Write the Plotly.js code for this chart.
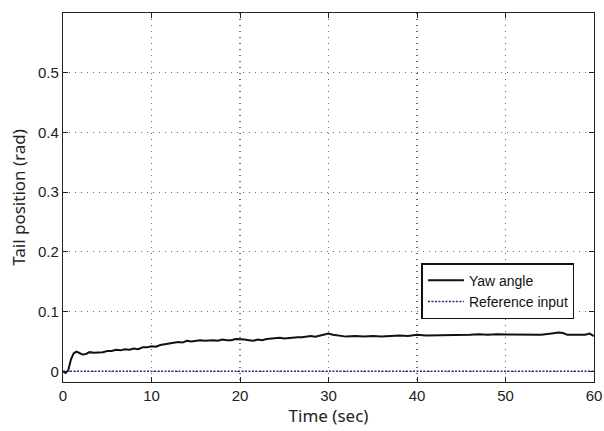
<!DOCTYPE html>
<html><head><meta charset="utf-8">
<script src="https://cdn.plot.ly/plotly-3.0.1.min.js"></script>
<style>body{margin:0;background:#fff}#c{width:604px;height:431px}</style>
</head><body><div id="c"></div>
<script>
const timeSec = [0,0.3,0.6,0.9,1.2,1.5,1.8,2.2,2.6,3,3.5,4,4.5,5,5.5,6,6.5,7,7.5,8,8.5,9,9.5,10,10.5,11,11.5,12,12.5,13,13.5,14,14.5,15,15.5,16,16.5,17,17.5,18,18.5,19,19.5,20,20.5,21,21.5,22,22.5,23,23.5,24,24.5,25,25.5,26,26.5,27,27.5,28,28.5,29,29.5,30,30.5,31,31.5,32,33,34,35,36,37,38,39,40,41,42,43,44,45,46,47,48,49,50,51,52,53,54,55,56,56.5,57,58,59,59.5,60];
const yawAngle = [0,-0.003,0.002,0.02,0.03,0.033,0.031,0.028,0.029,0.032,0.031,0.031,0.032,0.034,0.034,0.036,0.035,0.037,0.036,0.038,0.037,0.040,0.040,0.042,0.041,0.044,0.045,0.046,0.048,0.049,0.048,0.051,0.050,0.051,0.052,0.051,0.052,0.052,0.051,0.053,0.052,0.052,0.054,0.054,0.053,0.052,0.051,0.053,0.052,0.054,0.055,0.055,0.056,0.055,0.056,0.056,0.057,0.057,0.058,0.059,0.058,0.060,0.061,0.063,0.061,0.060,0.059,0.058,0.059,0.058,0.059,0.058,0.059,0.060,0.059,0.061,0.060,0.060,0.061,0.060,0.061,0.061,0.062,0.061,0.062,0.062,0.061,0.062,0.062,0.061,0.063,0.065,0.064,0.061,0.061,0.061,0.063,0.059];
const refTime = [0,60];
const refInput = [0,0];
const xTicks = [0,10,20,30,40,50,60];
const yTicks = [0,0.1,0.2,0.3,0.4,0.5];

const traces = [
 {x: timeSec, y: yawAngle, mode:'lines', name:'Yaw angle', line:{color:'#111', width:2}},
 {x: refTime, y: refInput, mode:'lines', name:'Reference input', line:{color:'#2a2a8a', width:1.3, dash:'2px,1.5px'}}
];
const ax = {showline:true, mirror:'ticks', linecolor:'#222', linewidth:1.2, ticks:'inside', ticklen:5, tickcolor:'#222',
  showgrid:true, gridcolor:'#666', griddash:'1px,5px', gridwidth:1.2, zeroline:false, automargin:false,
  tickfont:{family:'Liberation Sans, Arial', size:15, color:'#222'}};
const layout = {
  width:604, height:431, margin:{l:63, r:10, t:13, b:49},
  paper_bgcolor:'#fff', plot_bgcolor:'#fff', showlegend:true,
  xaxis: Object.assign({}, ax, {range:[0,60], tickvals:xTicks, ticktext:xTicks.map(String), ticklabeloverflow:'allow',
    title:{text:'Time (sec)', font:{family:'Noto Sans', size:17, color:'#222'}, standoff:4}}),
  yaxis: Object.assign({}, ax, {range:[-0.018,0.6], tickvals:yTicks, ticktext:yTicks.map(String),
    title:{text:'Tail position (rad)', font:{family:'Noto Sans', size:17, color:'#222'}, standoff:8}}),
  legend:{x:0.675, y:0.322, xanchor:'left', yanchor:'top', bgcolor:'#fff', bordercolor:'#111', borderwidth:1.5,
    font:{family:'Liberation Sans, Arial', size:14, color:'#111'}, tracegroupgap:0, itemwidth:36}
};
Plotly.newPlot('c', traces, layout, {displayModeBar:false, staticPlot:true});
</script></body></html>
